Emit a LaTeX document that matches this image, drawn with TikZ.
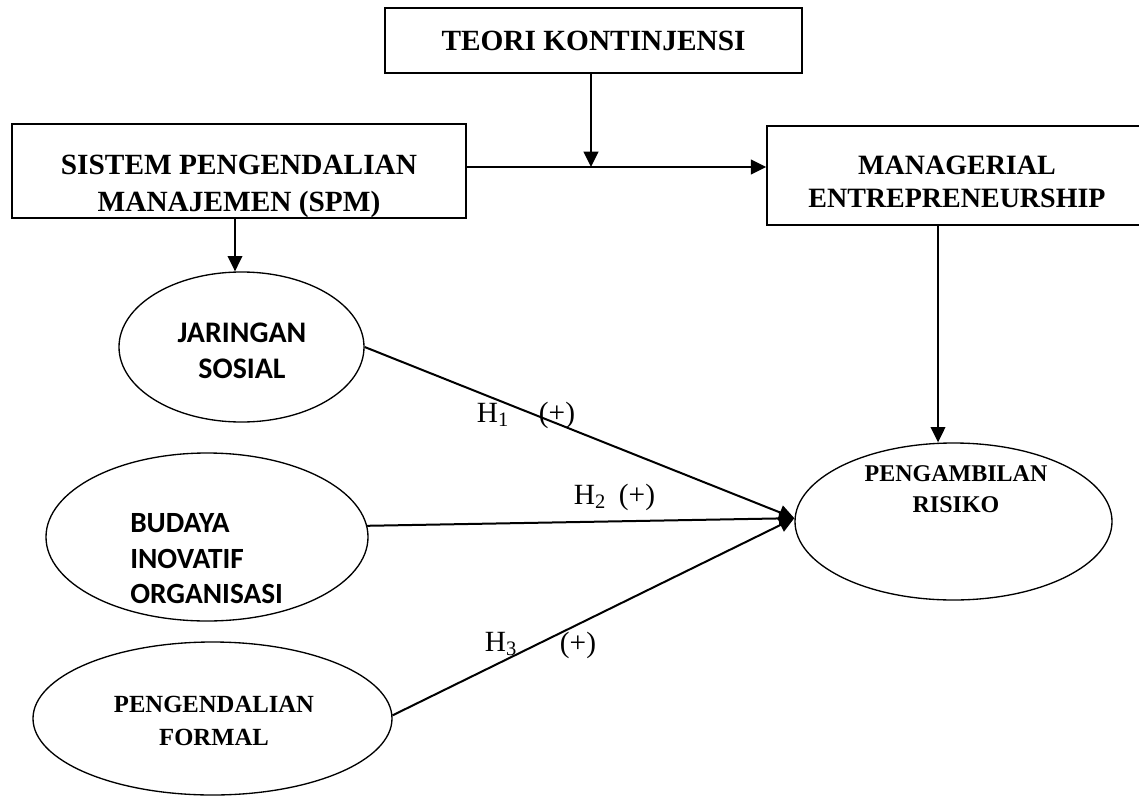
\documentclass[tikz,border=0pt]{standalone}
\usepackage{fontspec}
\setmainfont{Liberation Serif}
\newfontfamily\calibri{Carlito}
\usepackage{tikz}
\usetikzlibrary{
	shapes.geometric,   %椭圆
	positioning,        %定位
	arrows.meta,        %提供各种箭头
	calc                %计算
}
\tikzstyle{kotak}=[rectangle,
draw,
line width=1.1pt,
inner sep=0pt]
\tikzstyle{elips}=[ellipse,
draw,
line width=1pt,
inner sep=0pt]
\tikzstyle{judul}=[align=center, inner sep=0pt, font=\bfseries\fontsize{22}{27.75}\selectfont]
\tikzstyle{isi}=[align=center, inner sep=0pt, font=\bfseries\fontsize{18.5}{24.75}\selectfont]
\tikzstyle{isisans}=[inner sep=0pt, font=\calibri\bfseries\fontsize{22.4}{27}\selectfont]
\tikzstyle{hipo}=[anchor=base, inner sep=0pt, font=\fontsize{22}{26}\selectfont]
\tikzstyle{panah}=[->, line width=1.5pt]
\tikzset{
	every picture/.style={
		>={Triangle[length=11.5pt,width=11pt]},
		node distance=5mm and 5mm
}}

\begin{document}
\begin{tikzpicture}[x=0.75pt,y=-0.75pt]
\useasboundingbox (0,0) rectangle (1139,796);
% 方框
\node[kotak, minimum width=312.75pt, minimum height=48.75pt, judul] (teori) at (593.5,40.5) {TEORI KONTINJENSI};
\node[kotak, minimum width=340.5pt, minimum height=70.5pt] (spm) at (239,171) {};
\node[judul] (spmteks) at (239,186) {SISTEM PENGENDALIAN\\MANAJEMEN (SPM)};
\node[kotak, minimum width=285pt, minimum height=74.25pt] (mgr) at (957,175.5) {};
\node[judul, font=\bfseries\fontsize{21}{24.75}\selectfont] (mgrteks) at (957,181.5) {MANAGERIAL\\ENTREPRENEURSHIP};
% 椭圆
\node[elips, minimum width=183.75pt, minimum height=112.5pt] (jaringan) at (241.5,347) {};
\node[isisans, align=center] (jaringanteks) at (242,351) {JARINGAN\\SOSIAL};
\node[elips, minimum width=241.5pt, minimum height=126pt] (budaya) at (207,537) {};
\node[isisans, align=left, anchor=west, font=\calibri\bfseries\fontsize{22}{26.6}\selectfont] (budayateks) at (130,559) {BUDAYA\\INOVATIF\\ORGANISASI};
\node[elips, minimum width=269.25pt, minimum height=114.75pt, isi] (formal) at (212.5,718.5) {};
\node[isi] (formalteks) at (214,721) {PENGENDALIAN\\FORMAL};
\node[elips, minimum width=237.75pt, minimum height=117.75pt] (risiko) at (953.5,521.5) {};
\node[isi, font=\bfseries\fontsize{18}{23.25}\selectfont] (risikoteks) at (956,489) {PENGAMBILAN\\RISIKO};
% 连线
\coordinate (temu) at (591,167);
\coordinate (kiri) at (235,0);
\coordinate (kanan) at (938,0);
\coordinate (masuk) at ([yshift=2.5pt]risiko.west);
\draw[panah] (spm.east |- temu) -- (mgr.west |- temu);
\draw[panah] (teori.south -| temu) -- (temu);
\draw[panah] (spm.south -| kiri) -- (jaringan.north -| kiri);
\draw[panah] (mgr.south -| kanan) -- (risiko.north -| kanan);
\draw[panah] (jaringan.east) -- (masuk);
\draw[panah] (budaya.4) -- (masuk);
\draw[panah] (formal.1) -- (masuk);
% 假设
\node[hipo] (h1) at (493,422) {H\textsubscript{1}};
\node[hipo] (p1) at (557,422) {(+)};
\node[hipo] (h2) at (590,504) {H\textsubscript{2}};
\node[hipo] (p2) at (637,504) {(+)};
\node[hipo] (h3) at (501,651) {H\textsubscript{3}};
\node[hipo] (p3) at (578,652) {(+)};
\end{tikzpicture}
\end{document}
